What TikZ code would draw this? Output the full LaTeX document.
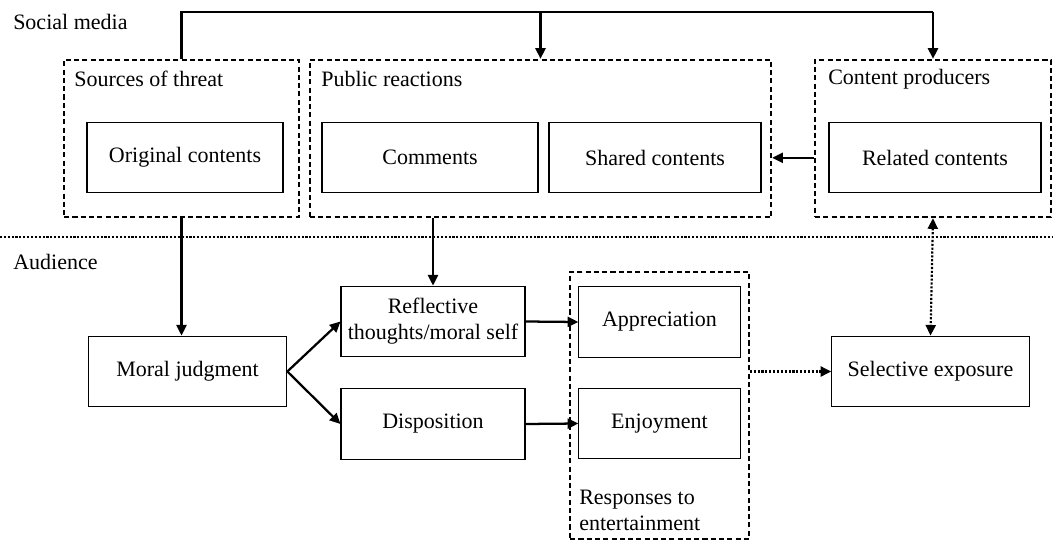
\documentclass[tikz,border=0pt]{standalone}
\usepackage{fontspec}
\setmainfont{Liberation Serif}
\usetikzlibrary{arrows.meta}
\begin{document}
\begin{tikzpicture}[x=0.75pt,y=-0.75pt,
    font=\fontsize{16.5}{19.5}\selectfont,
    box/.style={draw,line width=0.8pt,inner sep=0pt},
    group/.style={draw,line width=1.5pt,dash pattern=on 3.8pt off 2.4pt,inner sep=0pt},
    caption/.style={anchor=west,inner sep=0pt},
    tip/.style={-{Triangle[length=8pt,width=7.5pt]}},
    conn/.style={draw,line width=1.7pt,tip},
    dots/.style={draw,line width=1.6pt,dash pattern=on 1.6pt off 1.3pt}]
  \useasboundingbox (0,0) rectangle (1053,542);
  \draw
    (181.5,138.5) node[group,minimum width=176pt,minimum height=118pt] (srcs){}
    (540.5,138.5) node[group,minimum width=346pt,minimum height=118pt] (pubreac){}
    (933,138.5) node[group,minimum width=177pt,minimum height=118pt] (producers){}
    (659.5,405.5) node[group,minimum width=134pt,minimum height=200pt] (responses){};
  \draw
    (185,157.5) node[box,minimum width=147pt,minimum height=52pt] (orig){Original contents}
    (430,157.5) node[box,minimum width=162pt,minimum height=52pt] (comments){Comments}
    (655,157.5) node[box,minimum width=159pt,minimum height=52pt] (shared){Shared contents}
    (935,157.5) node[box,minimum width=159pt,minimum height=52pt] (related){Related contents}
    (187.5,371.5) node[box,minimum width=149pt,minimum height=53pt] (moral){Moral judgment}
    (433,321.5) node[box,minimum width=138pt,minimum height=53pt,align=center] (reflect){Reflective\\thoughts/moral self}
    (433,424) node[box,minimum width=138pt,minimum height=53pt] (disp){Disposition}
    (659.5,322) node[box,minimum width=121pt,minimum height=53pt] (apprec){Appreciation}
    (659.5,423.5) node[box,minimum width=121pt,minimum height=53pt] (enjoy){Enjoyment}
    (930.5,371.5) node[box,minimum width=148pt,minimum height=53pt] (selexp){Selective exposure};
  \draw
    (13,22) node[caption] (social){Social media}
    (13,262) node[caption] (audience){Audience}
    (74,79) node[caption] (srcslabel){Sources of threat}
    (321,79) node[caption] (pubreaclabel){Public reactions}
    (828,79) node[caption] (producerslabel){Content producers}
    (579,510) node[caption,align=left] (responseslabel){Responses to\\entertainment};
  \coordinate (top) at (0,12);
  \coordinate (sepl) at (0,237);
  \coordinate (sepr) at (1053,237);
  \path[dots] (sepl) to (sepr);
  % social media links
  \path[conn,-] (srcs.north) |- (top -| producers.north) coordinate (topr);
  \path[conn] (topr) to (producers.north);
  \path[conn] (pubreac.north |- top) to (pubreac.north);
  \path[conn] ([yshift=-14.5pt]producers.west) to ([yshift=-14.5pt]pubreac.east);
  % audience links
  \path[conn] (srcs.south) to (srcs.south |- moral.north);
  \path[conn] (pubreac.south -| reflect.north) to (reflect.north);
  \path[conn] (moral.east) to (reflect.west);
  \path[conn] (moral.east) to (disp.west);
  \path[conn] (reflect.east) to (apprec.west);
  \path[conn] (disp.east) to (enjoy.west);
  \path[dots,{Triangle[length=8pt,width=7.5pt]}-{Triangle[length=8pt,width=7.5pt]}] (producers.south) to (selexp.north);
  \path[dots,tip] (responses.east |- selexp.west) to (selexp.west);
\end{tikzpicture}
\end{document}
